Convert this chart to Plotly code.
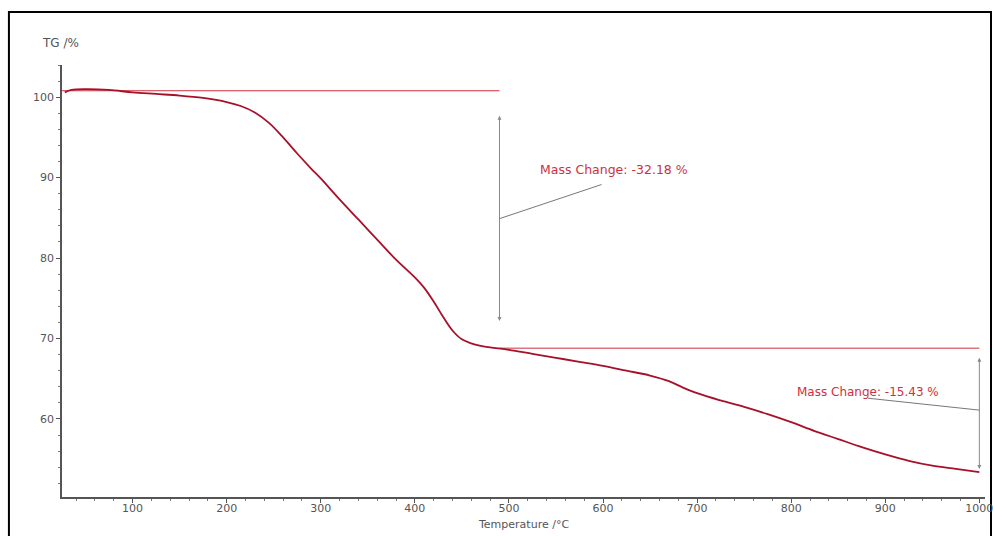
import plotly.graph_objects as go

temp = [28, 35, 50, 75, 100, 125, 150, 175, 200, 215, 230, 245, 260, 275, 290, 300, 320, 340, 360, 380,
        400, 410, 420, 430, 440, 450, 460, 470, 480, 500, 525, 550, 575, 600, 625, 650, 670, 685, 700,
        725, 750, 775, 800, 825, 850, 875, 900, 925, 950, 975, 1000]
tg = [100.6, 100.9, 101.0, 100.9, 100.6, 100.4, 100.2, 99.9, 99.4, 98.9, 98.1, 96.8, 95.0, 93.0, 91.1, 89.9,
      87.3, 84.8, 82.3, 79.8, 77.6, 76.3, 74.6, 72.7, 71.0, 69.9, 69.4, 69.1, 68.9, 68.6, 68.1, 67.6, 67.1,
      66.6, 66.0, 65.4, 64.7, 63.9, 63.2, 62.3, 61.5, 60.6, 59.6, 58.5, 57.5, 56.5, 55.6, 54.8, 54.2, 53.8, 53.4]

step1_x = [25, 490]
step1_y = [100.8, 100.8]
step2_x = [490, 1000]
step2_y = [68.8, 68.8]
labels = ["Mass Change: -32.18 %", "Mass Change: -15.43 %"]

x_ticks = [100, 200, 300, 400, 500, 600, 700, 800, 900, 1000]
y_ticks = [60, 70, 80, 90, 100]

red = "#d0303c"
curve = "#a8102a"
txt = "#555555"
fam = "DejaVu Sans, Verdana, sans-serif"

fig = go.Figure()
fig.add_trace(go.Scatter(x=step1_x, y=step1_y, mode="lines", line=dict(color=red, width=1), hoverinfo="skip"))
fig.add_trace(go.Scatter(x=step2_x, y=step2_y, mode="lines", line=dict(color=red, width=1), hoverinfo="skip"))
fig.add_trace(go.Scatter(x=temp, y=tg, mode="lines", line=dict(color=curve, width=1.8, shape="spline")))

ann = []
ann.append(dict(x=490, y=97.7, ax=490, ay=72.0, xref="x", yref="y", axref="x", ayref="y",
                showarrow=True, arrowside="start+end", arrowhead=2, arrowsize=0.8, arrowwidth=1,
                arrowcolor="#888888", text=""))
ann.append(dict(x=1000, y=67.6, ax=1000, ay=53.6, xref="x", yref="y", axref="x", ayref="y",
                showarrow=True, arrowside="start+end", arrowhead=2, arrowsize=0.8, arrowwidth=1,
                arrowcolor="#888888", text=""))
ann.append(dict(x=490, y=84.9, ax=600, ay=89.2, xref="x", yref="y", axref="x", ayref="y",
                showarrow=True, arrowhead=0, arrowwidth=1, arrowcolor="#777777", text=""))
ann.append(dict(x=1000, y=61.1, ax=880, ay=62.6, xref="x", yref="y", axref="x", ayref="y",
                showarrow=True, arrowhead=0, arrowwidth=1, arrowcolor="#777777", text=""))
ann.append(dict(x=531, y=91.0, xref="x", yref="y", text=labels[0], showarrow=False, xanchor="left",
                font=dict(family=fam, size=12.5, color=red)))
ann.append(dict(x=804, y=63.3, xref="x", yref="y", text=labels[1], showarrow=False, xanchor="left",
                font=dict(family=fam, size=12, color=red)))
ann.append(dict(x=-0.0238, y=1.05, xref="paper", yref="paper", text="TG /%", showarrow=False,
                xanchor="left", yanchor="middle", font=dict(family=fam, size=12, color=txt)))
ann.append(dict(x=0.5, y=-0.0648, xref="paper", yref="paper", text="Temperature /°C", showarrow=False,
                xanchor="center", yanchor="middle", font=dict(family=fam, size=11, color=txt)))

fig.update_layout(
    width=993, height=536,
    margin=dict(l=62, r=8, t=65, b=39),
    paper_bgcolor="white", plot_bgcolor="white",
    showlegend=False,
    annotations=ann,
    shapes=[dict(type="rect", xref="paper", yref="paper", x0=-0.0575, x1=1.0065, y0=-0.2, y1=1.1227,
                 line=dict(color="black", width=2), fillcolor="rgba(0,0,0,0)", layer="below")],
    font=dict(family=fam, size=11, color=txt),
)
fig.update_xaxes(range=[25, 1006], tickvals=x_ticks, showline=True, linecolor="#555555", linewidth=1.5,
                 ticks="outside", ticklen=4, tickcolor="#555555", showgrid=False, zeroline=False,
                 minor=dict(dtick=20, ticks="outside", ticklen=2, tickcolor="#777777"),
                 ticklabeloverflow="allow", ticklabelstandoff=-4, automargin=False,
                 tickfont=dict(family=fam, size=11, color=txt))
fig.update_yaxes(range=[50.3, 104], tickvals=y_ticks, showline=True, linecolor="#555555", linewidth=1.5,
                 ticks="outside", ticklen=4, tickcolor="#555555", showgrid=False, zeroline=False,
                 minor=dict(dtick=2, ticks="outside", ticklen=2, tickcolor="#777777"),
                 automargin=False,
                 tickfont=dict(family=fam, size=11, color=txt))

fig.write_html("out.html")
